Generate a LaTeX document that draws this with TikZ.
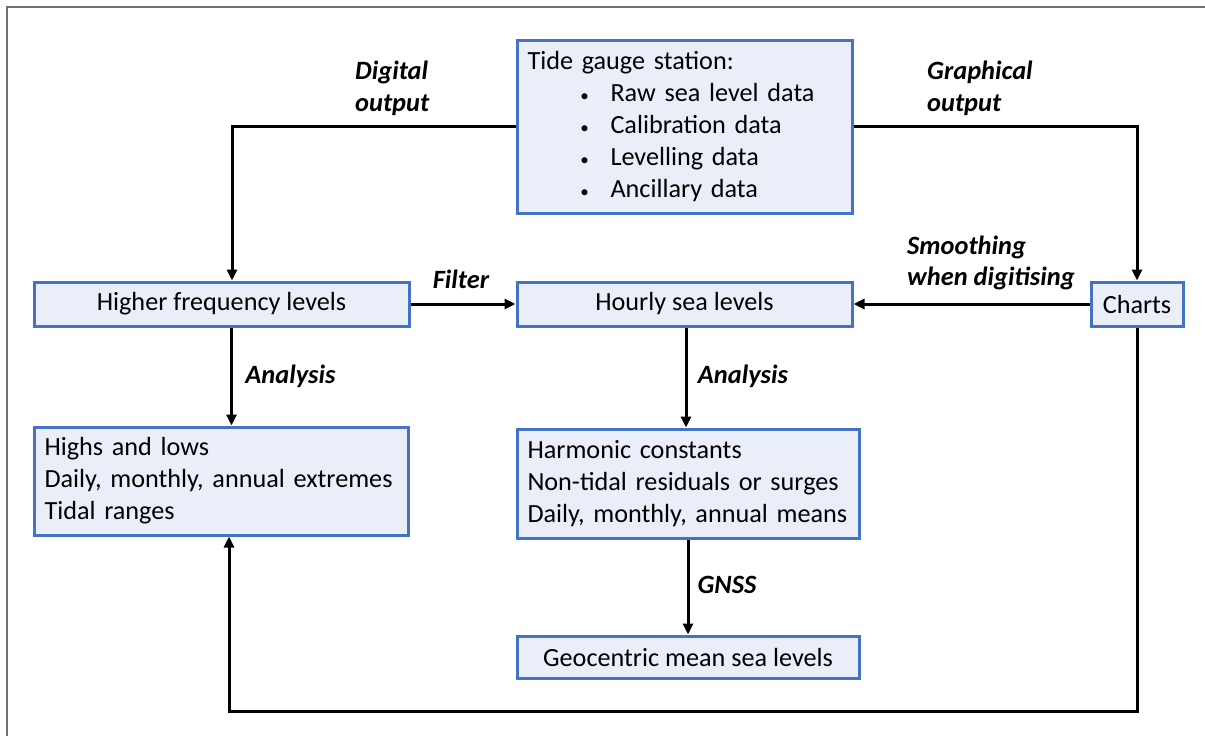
\documentclass[tikz,border=0pt]{standalone}
\usepackage{fontspec}
\setmainfont{Carlito}
\usetikzlibrary{arrows.meta,calc}
\definecolor{boxfill}{RGB}{233,238,249}
\definecolor{boxline}{RGB}{68,114,196}
\definecolor{framegray}{RGB}{112,112,112}
\newcommand{\tbullet}{\hspace*{50pt}\makebox[14pt]{\fontsize{17}{17}\selectfont\textbullet}\hspace*{19pt}}
\begin{document}
\begin{tikzpicture}[x=1pt,y=-1pt,
  box/.style={draw=boxline, fill=boxfill, line width=3pt, inner sep=0pt,
              font=\fontsize{26.2}{32}\selectfont, align=center},
  lbox/.style={box, align=left, inner xsep=10.5pt},
  lab/.style={font=\fontsize{26.4}{31.5}\selectfont\bfseries\itshape, align=left, inner sep=0pt},
  flow/.style={draw=black, line width=3pt, -{Triangle[length=11pt,width=10pt]}}]
  \useasboundingbox (0,0) rectangle (1205,736);
  % page frame
  \draw[framegray, line width=1.8pt] (7,736) -- (7,7) -- (1205,7);

  % boxes
  \node[lbox, text width=314pt, minimum width=335pt, minimum height=173pt] (tide) at (684.5,126.5)
    {\mbox{Tide gauge station:}\\
     \mbox{\tbullet Raw sea level data}\\
     \mbox{\tbullet Calibration data}\\
     \mbox{\tbullet Levelling data}\\
     \mbox{\tbullet Ancillary data}};
  \node[box, minimum width=375pt, minimum height=44pt] (hf) at (221.5,304) {Higher frequency levels};
  \node[box, minimum width=335pt, minimum height=44pt] (hourly) at (684.5,304) {Hourly sea levels};
  \node[box, minimum width=92pt, minimum height=44pt] (charts) at (1137,304) {Charts};
  \node[lbox, text width=353pt, minimum width=374pt, minimum height=108pt] (highs) at (221,481)
    {\mbox{Highs and lows}\\ \mbox{Daily, monthly, annual extremes}\\ \mbox{Tidal ranges}};
  \node[lbox, text width=321pt, minimum width=342pt, minimum height=109pt] (harm) at (688,483.5)
    {\mbox{Harmonic constants}\\ \mbox{Non-tidal residuals or surges}\\ \mbox{Daily, monthly, annual means}};
  \node[box, minimum width=342pt, minimum height=42pt] (geo) at (688,657) {Geocentric mean sea levels};

  % labels
  \node[lab, anchor=west] (ldig) at (355,88.5) {Digital\\output};
  \node[lab, anchor=west] (lgraph) at (927,88.5) {Graphical\\output};
  \node[lab, anchor=west] (lsmooth) at (907,263) {Smoothing\\when digitising};
  \node[lab] (lfilter) at (461,279) {Filter};
  \node[lab] (lan1) at (290.5,376) {Analysis};
  \node[lab] (lan2) at (743,376) {Analysis};
  \node[lab] (lgnss) at (727,585) {GNSS};

  % connectors
  \coordinate (loopy) at (0,711);
  \draw[flow] (tide.west) -| ([xshift=10.5pt]hf.north);
  \draw[flow] (tide.east) -| (charts.north);
  \draw[flow] (hf.east) -- (hourly.west);
  \draw[flow] (charts.west) -- (hourly.east);
  \draw[flow] ([xshift=10pt]hf.south) -- ([xshift=10pt]hf.south |- highs.north);
  \draw[flow] ([xshift=1.5pt]hourly.south) -- ([xshift=1.5pt]hourly.south |- harm.north);
  \draw[flow] (harm.south) -- (geo.north);
  \draw[flow] (charts.south) -- (charts.south |- loopy) -| ([xshift=8pt]highs.south);
\end{tikzpicture}
\end{document}
